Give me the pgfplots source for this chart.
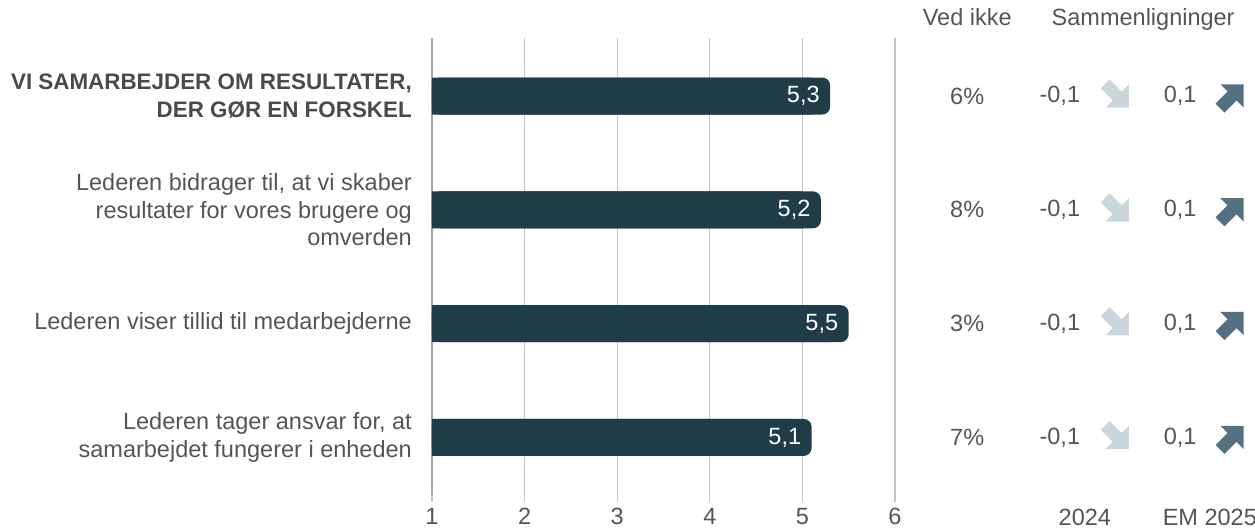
\documentclass[border=0pt]{standalone}
\usepackage{pgfplots}
\pgfplotsset{compat=1.18}
\usepackage{pgfplotstable}
\usepackage{fontspec}
\setmainfont{Liberation Sans}
\definecolor{barc}{HTML}{1E3D49}
\definecolor{txt}{HTML}{555555}
\definecolor{txtb}{HTML}{4A4A4A}
\definecolor{grd}{HTML}{C4C4C4}
\definecolor{axc}{HTML}{A6A6A6}
\definecolor{lightarr}{HTML}{C9D7DD}
\definecolor{darkarr}{HTML}{557080}

\pgfdeclareplotmark{arrdr}{%
  \pgftransformrotate{-45}%
  \pgfpathmoveto{\pgfqpoint{-17pt}{-6.3pt}}%
  \pgfpathlineto{\pgfqpoint{0pt}{-6.3pt}}%
  \pgfpathlineto{\pgfqpoint{0pt}{-16.5pt}}%
  \pgfpathlineto{\pgfqpoint{16.5pt}{0pt}}%
  \pgfpathlineto{\pgfqpoint{0pt}{16.5pt}}%
  \pgfpathlineto{\pgfqpoint{0pt}{6.3pt}}%
  \pgfpathlineto{\pgfqpoint{-17pt}{6.3pt}}%
  \pgfpathclose
  \pgfusepathqfill
}
\pgfdeclareplotmark{arrur}{%
  \pgftransformrotate{45}%
  \pgfpathmoveto{\pgfqpoint{-17pt}{-6.3pt}}%
  \pgfpathlineto{\pgfqpoint{0pt}{-6.3pt}}%
  \pgfpathlineto{\pgfqpoint{0pt}{-16.5pt}}%
  \pgfpathlineto{\pgfqpoint{16.5pt}{0pt}}%
  \pgfpathlineto{\pgfqpoint{0pt}{16.5pt}}%
  \pgfpathlineto{\pgfqpoint{0pt}{6.3pt}}%
  \pgfpathlineto{\pgfqpoint{-17pt}{6.3pt}}%
  \pgfpathclose
  \pgfusepathqfill
}

\pgfplotstableread{
y v ved c24 c25
3 5.3 6 -0.1 0.1
2 5.2 8 -0.1 0.1
1 5.5 3 -0.1 0.1
0 5.1 7 -0.1 0.1
}\datatable

\newcommand{\tf}{\fontsize{23.5}{27.5}\selectfont}
\newcommand{\hdf}{\fontsize{22.4}{28}\selectfont\bfseries\color{txtb}}

\begin{document}
\begin{tikzpicture}
\path[use as bounding box] (-432pt,-38.5pt) rectangle (823pt,490.5pt);
\begin{axis}[
  at={(0pt,0pt)}, anchor=south west,
  scale only axis, width=463pt, height=452.5pt,
  xmin=0, xmax=5, ymin=-0.466, ymax=3.51,
  clip=false,
  axis line style={draw=none},
  xtick={0,1,2,3,4,5}, xticklabels={1,2,3,4,5,6},
  xmajorgrids, grid style={draw=grd, line width=1.2pt},
  tick align=outside, major tick length=12pt,
  xtick pos=left,
  xtick style={draw=grd, line width=1.2pt},
  ytick={0,1,2,3},
  yticklabels={{Lederen tager ansvar for, at\\samarbejdet fungerer i enheden},
               {Lederen viser tillid til medarbejderne},
               {Lederen bidrager til, at vi skaber\\resultater for vores brugere og\\omverden},
               {\hdf VI SAMARBEJDER OM RESULTATER,\\\hdf DER GØR EN FORSKEL}},
  ytick style={draw=none},
  yticklabel style={align=right, inner sep=0pt, xshift=-8pt, font=\tf, text=txt},
  xticklabel style={font=\tf, text=txt, yshift=-2pt},
  /pgf/number format/assume math mode=true,
]
% left axis line
\draw[axc, line width=2.8pt] (axis cs:0,3.51) -- ([yshift=-5pt]axis cs:0,-0.466);
% square part of bars
\addplot[xbar, bar width=37pt, fill=barc, draw=none, forget plot]
  table[x expr=\thisrow{v}-1.2, y=y] {\datatable};
% rounded bars with values
\addplot[xbar, bar width=37pt, fill=barc, draw=none, rounded corners=8pt,
  point meta=explicit,
  nodes near coords={\pgfmathprintnumber[use comma, fixed, fixed zerofill, precision=1]{\pgfplotspointmeta}},
  every node near coord/.append style={anchor=east, text=white, font=\tf, xshift=-7pt}]
  table[x expr=\thisrow{v}-1, y=y, meta=v] {\datatable};
% Ved ikke
\addplot[draw=none, mark=none, point meta=explicit,
  nodes near coords={\pgfmathprintnumber{\pgfplotspointmeta}\%},
  every node near coord/.append style={anchor=center, text=txt, font=\tf}]
  table[x expr=5.78, y=y, meta=ved] {\datatable};
% 2024 comparison
\addplot[draw=none, mark=none, point meta=explicit,
  nodes near coords={\pgfmathprintnumber[use comma, fixed, fixed zerofill, precision=1]{\pgfplotspointmeta}},
  every node near coord/.append style={anchor=center, text=txt, font=\tf}]
  table[x expr=6.78, y=y, meta=c24] {\datatable};
\addplot[only marks, mark=arrdr, color=lightarr, fill=lightarr]
  table[x expr=7.40, y=y] {\datatable};
% EM 2025 comparison
\addplot[draw=none, mark=none, point meta=explicit,
  nodes near coords={\pgfmathprintnumber[use comma, fixed, fixed zerofill, precision=1]{\pgfplotspointmeta}},
  every node near coord/.append style={anchor=center, text=txt, font=\tf}]
  table[x expr=8.08, y=y, meta=c25] {\datatable};
\addplot[only marks, mark=arrur, color=darkarr, fill=darkarr]
  table[x expr=8.64, y=y] {\datatable};
% headers
\node[anchor=base, text=txt, font=\tf] at (axis cs:5.78,3.624) {Ved ikke};
\node[anchor=base, text=txt, font=\tf] at (axis cs:7.68,3.624) {Sammenligninger};
\node[anchor=base, text=txt, font=\tf] at (axis cs:7.05,-0.774) {2024};
\node[anchor=base, text=txt, font=\tf] at (axis cs:8.40,-0.774) {EM 2025};
\end{axis}
\end{tikzpicture}
\end{document}
